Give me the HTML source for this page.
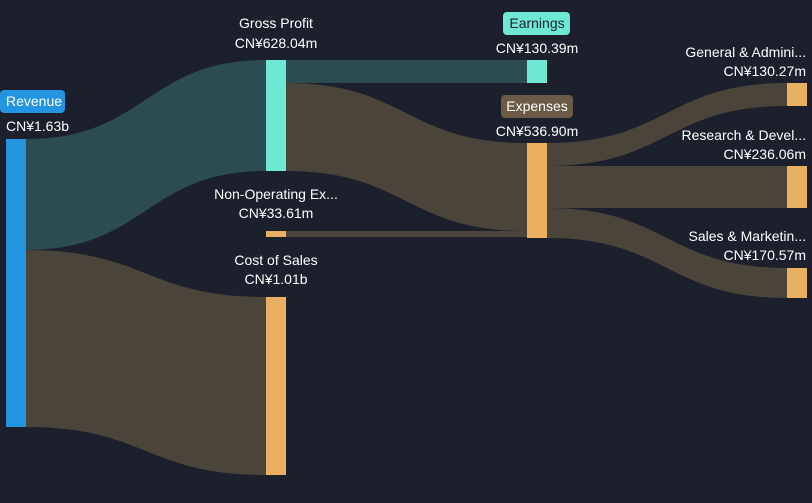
<!DOCTYPE html>
<html><head><meta charset="utf-8"><style>
html,body{margin:0;padding:0;background:#1b202c;}
svg{display:block;font-family:"Liberation Sans",sans-serif;}
</style></head><body>
<svg width="812" height="503" viewBox="0 0 812 503">
<rect width="812" height="503" fill="#1b202c"/>
<!-- links -->
<path d="M26,139 C146,139 146,60 266,60 L266,171 C146,171 146,250 26,250 Z" fill="#2d4c52"/>
<path d="M26,250 C146,250 146,297 266,297 L266,475 C146,475 146,427 26,427 Z" fill="#4a443a"/>
<path d="M286,60 L527,60 L527,83 L286,83 Z" fill="#2d4c52"/>
<path d="M286,83 C406,83 406,143 527,143 L527,231 C406,231 406,171 286,171 Z" fill="#4a443a"/>
<path d="M286,231 L527,231 L527,237 L286,237 Z" fill="#4a443a"/>
<path d="M547,143 C667,143 667,83 787,83 L787,106 C667,106 667,166 547,166 Z" fill="#4a443a"/>
<path d="M547,166 L787,166 L787,208 L547,208 Z" fill="#4a443a"/>
<path d="M547,208 C667,208 667,268 787,268 L787,298 C667,298 667,238 547,238 Z" fill="#4a443a"/>
<!-- nodes -->
<rect x="6" y="139" width="20" height="288" fill="#2394e0"/>
<rect x="266" y="60" width="20" height="111" fill="#6fe8d3"/>
<rect x="266" y="231" width="20" height="6" fill="#e8b060"/>
<rect x="266" y="297" width="20" height="178" fill="#e8b060"/>
<rect x="527" y="60" width="20" height="23" fill="#6fe8d3"/>
<rect x="527" y="143" width="20" height="95" fill="#e8b060"/>
<rect x="787" y="83" width="20" height="23" fill="#e8b060"/>
<rect x="787" y="166" width="20" height="42" fill="#e8b060"/>
<rect x="787" y="268" width="20" height="30" fill="#e8b060"/>
<!-- labels -->
<g font-size="14" fill="#ffffff">
<rect x="0" y="90" width="65" height="23" rx="4" fill="#2394e0"/>
<text x="6" y="106">Revenue</text>
<text x="6" y="131">CN¥1.63b</text>
<text x="276" y="28" text-anchor="middle">Gross Profit</text>
<text x="276" y="48" text-anchor="middle">CN¥628.04m</text>
<text x="276" y="199" text-anchor="middle">Non-Operating Ex...</text>
<text x="276" y="218" text-anchor="middle">CN¥33.61m</text>
<text x="276" y="265" text-anchor="middle">Cost of Sales</text>
<text x="276" y="284" text-anchor="middle">CN¥1.01b</text>
<rect x="503" y="12" width="67" height="23" rx="4" fill="#6fe8d3"/>
<text x="537" y="28" text-anchor="middle" fill="#1b202c">Earnings</text>
<text x="537" y="53" text-anchor="middle">CN¥130.39m</text>
<rect x="501" y="95" width="72" height="23" rx="4" fill="#6b5a45"/>
<text x="537" y="111" text-anchor="middle">Expenses</text>
<text x="537" y="136" text-anchor="middle">CN¥536.90m</text>
<text x="806" y="57" text-anchor="end">General &amp; Admini...</text>
<text x="806" y="76" text-anchor="end">CN¥130.27m</text>
<text x="806" y="140" text-anchor="end">Research &amp; Devel...</text>
<text x="806" y="159" text-anchor="end">CN¥236.06m</text>
<text x="806" y="241" text-anchor="end">Sales &amp; Marketin...</text>
<text x="806" y="260" text-anchor="end">CN¥170.57m</text>
</g>
</svg>
</body></html>
